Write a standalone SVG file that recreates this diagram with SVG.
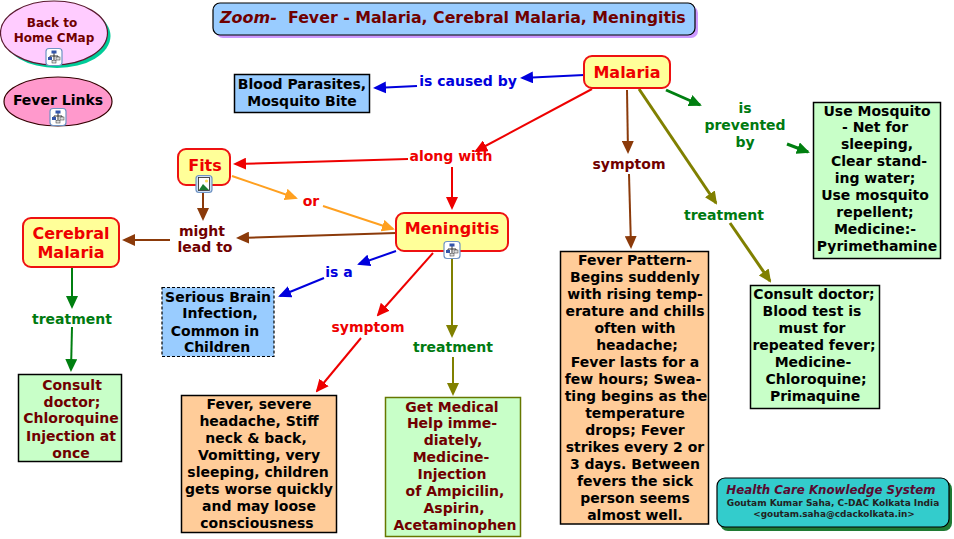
<svg xmlns="http://www.w3.org/2000/svg" xmlns:xlink="http://www.w3.org/1999/xlink" width="954" height="539" viewBox="0 0 954 539">
<style>
text{font-family:"DejaVu Sans",Verdana,sans-serif;font-weight:bold;font-size:14px;text-anchor:middle}
.k{fill:#000}.m{fill:#700000}.r{fill:#ee0000}.b{fill:#0000dd}.g{fill:#007a10}
.big{font-size:16px;fill:#ee0000}
.c{fill:#ffff99;stroke:#ee1111;stroke-width:2}
.o{fill:#ffcc99;stroke:#000;stroke-width:1.5}.l{fill:#c8ffc8;stroke:#000;stroke-width:1.5}.s{fill:#99ccff;stroke:#000;stroke-width:1.5}
#connectors path{fill:none;stroke-width:2}
.cb{stroke:#0000dd}.cr{stroke:#ee0000}.cn{stroke:#8b3a0a}.co{stroke:#808000}.cg{stroke:#007f10}.ca{stroke:#ffa020}
#connectors .t{stroke-width:3}
</style>
<defs>
<marker id="hb" markerUnits="userSpaceOnUse" markerWidth="13" markerHeight="12" refX="11" refY="6" orient="auto"><path d="M0 0L13 6L0 12Z" fill="#0000dd"/></marker>
<marker id="hr" markerUnits="userSpaceOnUse" markerWidth="13" markerHeight="12" refX="11" refY="6" orient="auto"><path d="M0 0L13 6L0 12Z" fill="#ee0000"/></marker>
<marker id="hn" markerUnits="userSpaceOnUse" markerWidth="13" markerHeight="12" refX="11" refY="6" orient="auto"><path d="M0 0L13 6L0 12Z" fill="#8b3a0a"/></marker>
<marker id="ho" markerUnits="userSpaceOnUse" markerWidth="13" markerHeight="12" refX="11" refY="6" orient="auto"><path d="M0 0L13 6L0 12Z" fill="#808000"/></marker>
<marker id="hg" markerUnits="userSpaceOnUse" markerWidth="13" markerHeight="12" refX="11" refY="6" orient="auto"><path d="M0 0L13 6L0 12Z" fill="#007f10"/></marker>
<marker id="ha" markerUnits="userSpaceOnUse" markerWidth="13" markerHeight="12" refX="11" refY="6" orient="auto"><path d="M0 0L13 6L0 12Z" fill="#ffa020"/></marker>
<g id="cmap"><rect x="-8" y="-8.500" width="16" height="17" rx="3" fill="#fff" stroke="#6f93c4" stroke-width="1.2"/><path d="M0-4V3M-4 1V-1H4V1" fill="none" stroke="#333" stroke-width="1"/><rect x="-2.500" y="-6.500" width="5" height="3" fill="#3355aa"/><rect x="-6" y="0" width="4" height="3" fill="#3355aa"/><rect x="2" y="0" width="4" height="3" fill="#dddddd" stroke="#333" stroke-width=".5"/><rect x="-2" y="3.500" width="4" height="2.500" fill="#dddddd" stroke="#333" stroke-width=".5"/></g>
<g id="pic"><rect x="-8" y="-8.500" width="16" height="17" rx="3" fill="#cfe0f5" stroke="#6f93c4" stroke-width="1.2"/><rect x="-5.500" y="-6.500" width="11" height="13" fill="#fff" stroke="#222" stroke-width=".8"/><path d="M-5 6L-1 0L5 6Z" fill="#1a7a30"/><circle cx="2.500" cy="-3" r="1.600" fill="#ffdd55"/></g>
</defs>

<g id="connectors">
<path class="cb" marker-end="url(#hb)" d="M584 75L522 78"/>
<path class="cb" d="M417 86L375 88" marker-end="url(#hb)"/>
<path class="cr" marker-end="url(#hr)" d="M592 89L476 151"/>
<path class="cr" marker-end="url(#hr)" d="M408 159L235 164"/>
<path class="cr" marker-end="url(#hr)" d="M452 167V208"/>
<path class="cn" marker-end="url(#hn)" d="M627 90L628 152"/>
<path class="cn" marker-end="url(#hn)" d="M629 174L631 247"/>
<path class="co t" marker-end="url(#ho)" d="M639 89L716 203"/>
<path class="co t" marker-end="url(#ho)" d="M730 223L770 281"/>
<path class="cg t" marker-end="url(#hg)" d="M666 90L700 105"/>
<path class="cg t" marker-end="url(#hg)" d="M787 144L808 152"/>
<path class="ca" marker-end="url(#ha)" d="M232 176L296 198"/>
<path class="ca" marker-end="url(#ha)" d="M323 206L393 229"/>
<path class="cn" marker-end="url(#hn)" d="M203 190V219"/>
<path class="cn" marker-end="url(#hn)" d="M396 233L238 238"/>
<path class="cn" marker-end="url(#hn)" d="M170 240H124"/>
<path class="cb" marker-end="url(#hb)" d="M396 251L359 264"/>
<path class="cb" marker-end="url(#hb)" d="M324 278L280 296"/>
<path class="cr" marker-end="url(#hr)" d="M433 253L378 315"/>
<path class="cr" marker-end="url(#hr)" d="M361 338L317 391"/>
<path class="co" marker-end="url(#ho)" d="M452 258V336"/>
<path class="co" marker-end="url(#ho)" d="M453 357V394"/>
<path class="cg" marker-end="url(#hg)" d="M72 268V307"/>
<path class="cg" marker-end="url(#hg)" d="M72 327L71 370"/>
</g>

<g id="back-home"><ellipse cx="57" cy="36" rx="53.500" ry="32" fill="#00cc99"/><ellipse cx="54" cy="33" rx="53.500" ry="32" fill="#ffccff" stroke="#5a1a30" stroke-width="1.200"/><text class="m" x="52" y="27" style="font-size:12px">Back to</text><text class="m" x="54" y="42" style="font-size:12px">Home CMap</text><use xlink:href="#cmap" href="#cmap" x="54" y="57"/></g>
<g id="fever-links"><ellipse cx="58" cy="101.500" rx="54" ry="24.500" fill="#ff99cc" stroke="#300" stroke-width="1.200"/><text class="k" x="58" y="105">Fever Links</text><use xlink:href="#cmap" href="#cmap" x="58" y="117"/></g>
<g id="title"><rect x="216" y="6" width="482" height="32" rx="7" fill="#cc99ff"/><rect x="213" y="3" width="482" height="32" rx="7" fill="#99ccff" stroke="#000" stroke-width="1.200"/><text class="m" x="220" y="23" style="font-size:16px;font-style:italic;text-anchor:start">Zoom-</text><text class="m" x="288" y="23" style="font-size:15.800px;text-anchor:start">Fever - Malaria, Cerebral Malaria, Meningitis</text></g>
<g id="parasites"><rect class="s" x="234.500" y="74.500" width="135" height="38"/><text class="k" x="302" y="89">Blood Parasites,</text><text class="k" x="302" y="106">Mosquito Bite</text></g>
<g id="malaria"><rect class="c" x="584" y="56" width="86" height="32" rx="8"/><text class="big" x="627" y="78">Malaria</text></g>
<g id="fits"><rect class="c" x="178" y="149" width="52" height="36" rx="8"/><text class="big" x="205" y="171">Fits</text><use xlink:href="#pic" href="#pic" x="204" y="184"/></g>
<g id="meningitis"><rect class="c" x="396" y="213" width="112" height="38" rx="8"/><text class="big" x="452" y="234">Meningitis</text><use xlink:href="#cmap" href="#cmap" x="452" y="250"/></g>
<g id="cerebral"><rect class="c" x="23" y="218" width="96" height="49" rx="8"/><text class="big" x="71" y="239">Cerebral</text><text class="big" x="71" y="258">Malaria</text></g>

<g id="l-caused"><text class="b" x="468" y="86">is caused by</text></g>
<g id="l-along"><text class="r" x="451" y="161">along with</text></g>
<g id="l-symptom1"><text class="m" x="629" y="169">symptom</text></g>
<g id="l-prevented"><text class="g" x="745" y="113">is</text><text class="g" x="745" y="130">prevented</text><text class="g" x="745" y="147">by</text></g>
<g id="l-treat1"><text class="g" x="724" y="220">treatment</text></g>
<g id="l-or"><text class="r" x="311" y="206">or</text></g>
<g id="l-might"><text class="m" x="202" y="236">might</text><text class="m" x="205" y="252">lead to</text></g>
<g id="l-isa"><text class="b" x="339" y="277">is a</text></g>
<g id="l-symptom2"><text class="r" x="368" y="332">symptom</text></g>
<g id="l-treat2"><text class="g" x="453" y="352">treatment</text></g>
<g id="l-treat3"><text class="g" x="72" y="324">treatment</text></g>

<g id="prevent"><rect class="l" x="813.500" y="102.500" width="127" height="156"/><text class="k" x="877" y="116">Use Mosquito</text><text class="k" x="875" y="132">- Net for</text><text class="k" x="877" y="149">sleeping,</text><text class="k" x="879" y="166">Clear stand-</text><text class="k" x="875" y="183">ing water;</text><text class="k" x="875" y="200">Use mosquito</text><text class="k" x="875" y="217">repellent;</text><text class="k" x="875" y="234">Medicine:-</text><text class="k" x="877" y="251">Pyrimethamine</text></g>
<g id="pattern"><rect class="o" x="560.500" y="251.500" width="148" height="272.500"/><text class="k" x="635" y="265">Fever Pattern-</text><text class="k" x="635" y="282">Begins suddenly</text><text class="k" x="635" y="299">with rising temp-</text><text class="k" x="635" y="316">erature and chills</text><text class="k" x="635" y="333">often with</text><text class="k" x="637" y="350">headache;</text><text class="k" x="635" y="367">Fever lasts for a</text><text class="k" x="633" y="384">few hours; Swea-</text><text class="k" x="636" y="401">ting begins as the</text><text class="k" x="635" y="418">temperature</text><text class="k" x="635" y="435">drops; Fever</text><text class="k" x="635" y="452">strikes every 2 or</text><text class="k" x="635" y="469">3 days. Between</text><text class="k" x="635" y="486">fevers the sick</text><text class="k" x="635" y="503">person seems</text><text class="k" x="635" y="520">almost well.</text></g>
<g id="consult"><rect class="l" x="750.500" y="285.500" width="129" height="123"/><text class="k" x="814" y="299">Consult doctor;</text><text class="k" x="812" y="316">Blood test is</text><text class="k" x="812" y="333">must for</text><text class="k" x="814" y="350">repeated fever;</text><text class="k" x="813" y="367">Medicine-</text><text class="k" x="816" y="384">Chloroquine;</text><text class="k" x="815" y="401">Primaquine</text></g>
<g id="brain"><rect x="162" y="287.500" width="112" height="69" fill="#99ccff" stroke="#000" stroke-width="1.200" stroke-dasharray="3 2"/><text class="k" x="218" y="302">Serious Brain</text><text class="k" x="220" y="318">Infection,</text><text class="k" x="215" y="336">Common in</text><text class="k" x="217" y="352">Children</text></g>
<g id="cm-treat"><rect class="l" x="18.500" y="374.500" width="103" height="87"/><text class="m" x="72" y="390">Consult</text><text class="m" x="72" y="407">doctor;</text><text class="m" x="71" y="423">Chloroquine</text><text class="m" x="71" y="441">Injection at</text><text class="m" x="71" y="458">once</text></g>
<g id="men-symptom"><rect class="o" x="181.500" y="395.500" width="155" height="137"/><text class="k" x="259" y="409">Fever, severe</text><text class="k" x="259" y="426">headache, Stiff</text><text class="k" x="256" y="443">neck &amp; back,</text><text class="k" x="259" y="460">Vomitting, very</text><text class="k" x="258" y="477">sleeping, children</text><text class="k" x="259" y="494">gets worse quickly</text><text class="k" x="259" y="511">and may loose</text><text class="k" x="257" y="528">consciousness</text></g>
<g id="men-treat"><rect x="385.500" y="397.500" width="135" height="139" fill="#c8ffc8" stroke="#667700" stroke-width="1.500"/><text class="m" x="452" y="412">Get Medical</text><text class="m" x="452" y="428">Help imme-</text><text class="m" x="453" y="445">diately,</text><text class="m" x="451" y="462">Medicine-</text><text class="m" x="452" y="479">Injection</text><text class="m" x="455" y="496">of Ampicilin,</text><text class="m" x="454" y="513">Aspirin,</text><text class="m" x="455" y="530">Acetaminophen</text></g>
<g id="credit"><rect x="720" y="481" width="232" height="50" rx="8" fill="#1f7a33"/><rect x="717" y="478" width="232" height="49" rx="8" fill="#33cccc" stroke="#000" stroke-width="1.200"/><text x="831" y="494" style="font-style:italic;font-size:11.800px;fill:#5a0a30">Health Care Knowledge System</text><text x="833" y="506" style="font-size:9px;fill:#222">Goutam Kumar Saha, C-DAC Kolkata India</text><text x="834" y="517" style="font-size:8.900px;fill:#222">&lt;goutam.saha@cdackolkata.in&gt;</text></g>
</svg>
